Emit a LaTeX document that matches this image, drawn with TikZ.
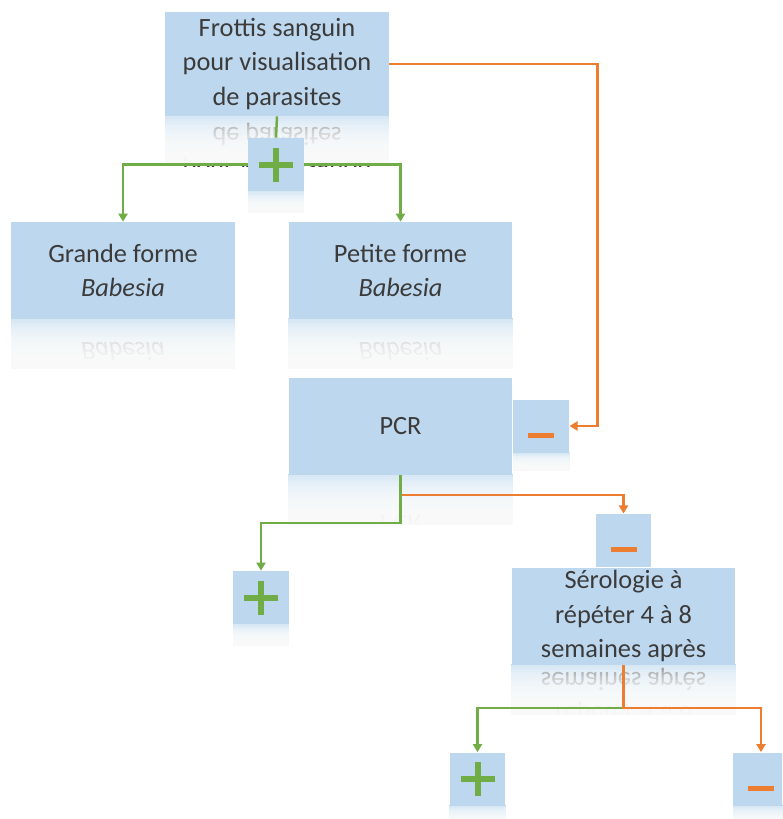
\documentclass[tikz,border=0pt]{standalone}
\usepackage{fontspec}
\setmainfont{Carlito}
\usetikzlibrary{arrows.meta, positioning, calc, backgrounds}
\definecolor{boxbg}{HTML}{BDD7EE}
\definecolor{okgreen}{HTML}{70AD47}
\definecolor{nogo}{HTML}{ED7D31}
\definecolor{ink}{HTML}{3B3B3B}

% faded mirror image under a box
\newcommand\reflect[3]{%
  \begin{scope}
    \clip ($(#1.south west)+(0,-1)$) rectangle ($(#1.south east)+(0,#2)$);
    \fill[boxbg] ($(#1.south west)+(0,-1)$) rectangle ($(#1.south east)+(0,#2)$);
    \begin{scope}[shift={($(#1.center)!2!(#1.south)$)}, yscale=-1]
      \node[overlay, transform shape, txt] at (0,0) {#3};
    \end{scope}
    \fill[white, fill opacity=0.4] (#1.south west) rectangle ($(#1.south east)+(0,#2)$);
    \foreach \k in {1,...,19}
      \fill[white, fill opacity=0.15] ($(#1.south west)+(0,{\k*#2/20})$) rectangle ($(#1.south east)+(0,#2)$);
  \end{scope}}
\newcommand\plusmark[1]{\draw[okgreen, line width=0.12cm] ($(#1)+(-17,0)$) -- ++(34,0) ($(#1)+(0,-17)$) -- ++(0,34);}
\newcommand\minusmark[1]{\draw[nogo, line width=0.1cm] ($(#1)+(-13,9)$) -- ++(26,0);}

\begin{document}
\begin{tikzpicture}[
    x=0.02cm, y=-0.02cm,
    txt/.style={text=ink, align=center, font=\fontsize{15}{19.5}\selectfont},
    box/.style={txt, fill=boxbg, minimum width=4.48cm, minimum height=1.94cm, inner sep=0pt},
    sq/.style={fill=boxbg, minimum width=1.12cm, minimum height=1.06cm, inner sep=0pt},
    arr/.style={-{Triangle[length=0.16cm, width=0.18cm]}},
    gline/.style={draw=okgreen, line width=0.05cm},
    oline/.style={draw=nogo, line width=0.05cm}
]
    \useasboundingbox (0,0) rectangle (782,819);
    \clip (0,0) rectangle (782,819);

    \node[box, minimum height=2.08cm] (smear) at (277,64) {Frottis sanguin\\pour visualisation\\de parasites};
    \node[sq] (p1) at (276,164.5) {};
    \node[box] (large) at (123,270.5) {Grande forme\\\textit{Babesia}};
    \node[box] (small) at (400.5,270.5) {Petite forme\\\textit{Babesia}};
    \node[box] (pcr)   at (400.5,426) {PCR};
    \node[sq, anchor=west] (m1) at (pcr.east) {};
    \node[sq] (p2) at (261,597.5) {};
    \node[box] (sero)  at (623.5,616) {S\'erologie \`a\\r\'ep\'eter 4 \`a 8\\semaines apr\`es};
    \node[sq, anchor=south] (m2) at (sero.north) {};
    \node[sq] (p3) at (477.5,779) {};
    \node[sq] (m3) at (761,779) {};

    \begin{scope}[on background layer]
        \reflect{smear}{50}{Frottis sanguin\\pour visualisation\\de parasites}
        \reflect{large}{50}{Grande forme\\\textit{Babesia}}
        \reflect{small}{50}{Petite forme\\\textit{Babesia}}
        \reflect{pcr}{50}{PCR}
        \reflect{sero}{50}{S\'erologie \`a\\r\'ep\'eter 4 \`a 8\\semaines apr\`es}
        \reflect{p1}{22}{}
        \reflect{m1}{18}{}
        \reflect{p2}{22}{}
        \reflect{p3}{22}{}
        \reflect{m3}{22}{}
    \end{scope}

    \plusmark{p1} \plusmark{p2} \plusmark{p3}
    \minusmark{m1} \minusmark{m2} \minusmark{m3}

    \coordinate (c2) at (400.5,495);
    \coordinate (c3) at (400.5,523);
    \coordinate (c4) at (623.5,708);

    \draw[gline] (smear.south) -- (p1.north);
    \draw[gline, arr] (p1.west) -| (large.north);
    \draw[gline, arr] (p1.east) -| (small.north);
    \draw[oline, arr] (smear.east) -- ++(208,0) |- (m1.east);
    \draw[oline, arr] (pcr.south) -- (c2) -| (m2.north);
    \draw[gline, arr] (pcr.south) -- (c3) -| (p2.north);
    \draw[gline, arr] (c4) -| (p3.north);
    \draw[oline, arr] (sero.south) -- (c4) -| (m3.north);
\end{tikzpicture}
\end{document}
